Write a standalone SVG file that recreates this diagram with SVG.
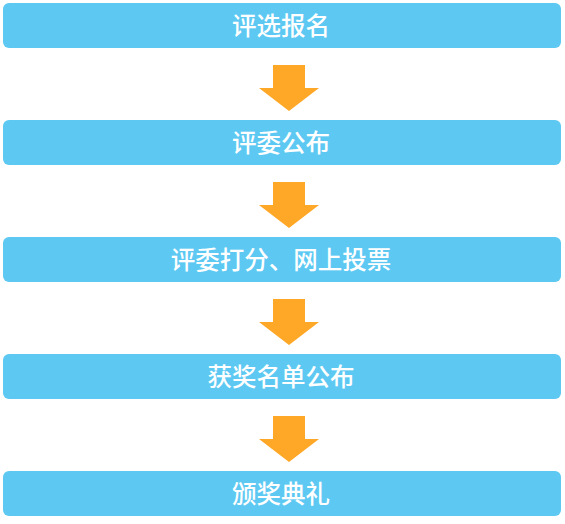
<svg xmlns="http://www.w3.org/2000/svg" width="565" height="524" viewBox="0 0 565 524">
<style>
.box{fill:#5DC9F3;}
.lbl{fill:#ffffff;font-family:"Noto Sans CJK SC","Liberation Sans",sans-serif;font-size:24.5px;font-weight:500;text-anchor:middle;dominant-baseline:central;}
.arr{fill:#FFA726;}
</style>
<rect width="565" height="524" fill="#ffffff"/>
<g id="n1"><rect class="box" x="3" y="3" width="558" height="45" rx="6"/><text class="lbl" x="281" y="24.5">评选报名</text></g>
<g id="n2"><rect class="box" x="3" y="120" width="558" height="45" rx="6"/><text class="lbl" x="281" y="141.5">评委公布</text></g>
<g id="n3"><rect class="box" x="3" y="237" width="558" height="45" rx="6"/><text class="lbl" x="281" y="258.5">评委打分、网上投票</text></g>
<g id="n4"><rect class="box" x="3" y="354" width="558" height="45" rx="6"/><text class="lbl" x="281" y="375.5">获奖名单公布</text></g>
<g id="n5"><rect class="box" x="3" y="471" width="558" height="45" rx="6"/><text class="lbl" x="281" y="492.5">颁奖典礼</text></g>
<g id="connectors">
<polygon class="arr" points="273,65 305,65 305,88 319,88 289,111 259,88 273,88"/>
<polygon class="arr" points="273,182 305,182 305,205 319,205 289,228 259,205 273,205"/>
<polygon class="arr" points="273,299 305,299 305,322 319,322 289,345 259,322 273,322"/>
<polygon class="arr" points="273,416 305,416 305,439 319,439 289,462 259,439 273,439"/>
</g>
</svg>
